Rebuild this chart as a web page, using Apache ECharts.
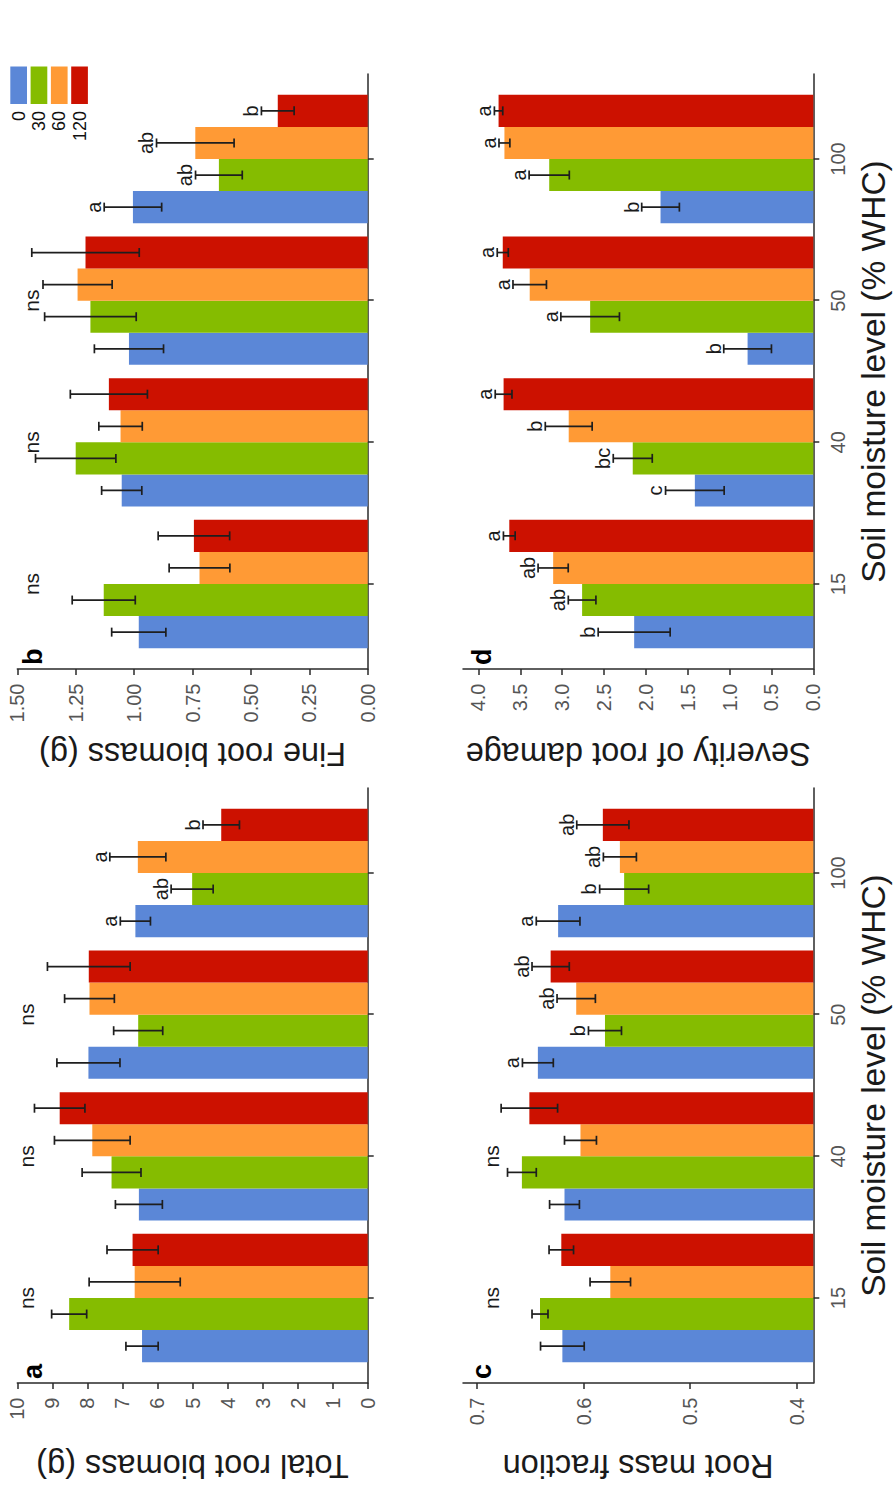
<!DOCTYPE html>
<html>
<head>
<meta charset="utf-8">
<script src="https://cdn.jsdelivr.net/npm/echarts@6/dist/echarts.min.js"></script>
<style>
html,body{margin:0;padding:0;background:#fff;overflow:hidden;width:894px;height:1488px;}
#chart{position:absolute;left:-297px;top:297px;width:1488px;height:894px;transform:rotate(-90deg);transform-origin:50% 50%;background:#fff;}
</style>
</head>
<body>
<div id="chart"></div>
<script>
// ---------- DATA ----------
const categories = ['15', '40', '50', '100'];          // soil moisture level (% WHC)
const levels = ['0', '30', '60', '120'];               // legend entries

// (a) Total root biomass (g): rows = levels 0,30,60,120 ; cols = 15,40,50,100
const totalMean = [
  [6.44, 6.53, 7.97, 6.63],
  [8.52, 7.31, 6.55, 5.01],
  [6.65, 7.86, 7.94, 6.56],
  [6.71, 8.79, 7.96, 4.18]
];
const totalSE = [
  [0.46, 0.67, 0.90, 0.43],
  [0.50, 0.84, 0.70, 0.60],
  [1.30, 1.08, 0.71, 0.80],
  [0.73, 0.72, 1.18, 0.52]
];
const totalLetters = [['', '', '', 'a'], ['', '', '', 'ab'], ['', '', '', 'a'], ['', '', '', 'b']];
const totalGroupSig = ['ns', 'ns', 'ns', ''];
const totalTicks = [0, 1, 2, 3, 4, 5, 6, 7, 8, 9, 10];

// (b) Fine root biomass (g)
const fineMean = [
  [0.980, 1.053, 1.022, 1.005],
  [1.130, 1.250, 1.187, 0.637],
  [0.720, 1.058, 1.242, 0.738],
  [0.744, 1.108, 1.208, 0.385]
];
const fineSE = [
  [0.116, 0.086, 0.148, 0.123],
  [0.135, 0.172, 0.196, 0.100],
  [0.130, 0.093, 0.148, 0.166],
  [0.153, 0.165, 0.230, 0.070]
];
const fineLetters = [['', '', '', 'a'], ['', '', '', 'ab'], ['', '', '', 'ab'], ['', '', '', 'b']];
const fineGroupSig = ['ns', 'ns', 'ns', ''];
const fineTicks = [0, 0.25, 0.5, 0.75, 1.0, 1.25, 1.5];

// (c) Root mass fraction
const rmfMean = [
  [0.620, 0.618, 0.643, 0.624],
  [0.641, 0.658, 0.580, 0.562],
  [0.575, 0.603, 0.607, 0.566],
  [0.621, 0.651, 0.631, 0.582]
];
const rmfSE = [
  [0.0205, 0.0140, 0.0145, 0.0205],
  [0.0075, 0.0135, 0.0155, 0.0230],
  [0.0190, 0.0150, 0.0180, 0.0155],
  [0.0115, 0.0265, 0.0175, 0.0245]
];
const rmfLetters = [['', '', 'a', 'a'], ['', '', 'b', 'b'], ['', '', 'ab', 'ab'], ['', '', 'ab', 'ab']];
const rmfGroupSig = ['ns', 'ns', '', ''];
const rmfTicks = [0.4, 0.5, 0.6, 0.7];

// (d) Severity of root damage
const damageMean = [
  [2.140, 1.415, 0.785, 1.825],
  [2.762, 2.157, 2.666, 3.155],
  [3.108, 2.922, 3.388, 3.690],
  [3.632, 3.700, 3.710, 3.760]
];
const damageSE = [
  [0.430, 0.350, 0.285, 0.225],
  [0.165, 0.233, 0.350, 0.240],
  [0.180, 0.280, 0.200, 0.065],
  [0.070, 0.100, 0.066, 0.050]
];
const damageLetters = [['b', 'c', 'b', 'b'], ['ab', 'bc', 'a', 'a'], ['ab', 'b', 'a', 'a'], ['a', 'a', 'a', 'a']];
const damageGroupSig = ['', '', '', ''];
const damageTicks = [0, 0.5, 1.0, 1.5, 2.0, 2.5, 3.0, 3.5, 4.0];

// ---------- STYLE / LAYOUT ----------
const FONT = '"Liberation Sans", Arial, Helvetica, sans-serif';
const COLORS = ['#5B87D7', '#85BC00', '#FF9A35', '#CC1100'];
const AX = '#2a2a2a';
const ERR = '#1e1e1e';
const BAR_W = 0.2265;
const CAP = 4.5;
const SIG_FS = 20;
const NS_FS = 21;
const LAB_FS = 20;

const panels = [
  { tag: 'a', title: 'Total root biomass (g)', mean: totalMean, se: totalSE, letters: totalLetters,
    groupSig: totalGroupSig, ticks: totalTicks, min: 0, max: 10, dec: 0, nsAt: 9.54, showCat: false,
    grid: { left: 105, top: 17.3, width: 595, height: 350.4 }, titleX: 22.4 },
  { tag: 'b', title: 'Fine root biomass (g)', mean: fineMean, se: fineSE, letters: fineLetters,
    groupSig: fineGroupSig, ticks: fineTicks, min: 0, max: 1.5, dec: 2, nsAt: 1.41, showCat: false,
    grid: { left: 819, top: 17.3, width: 595, height: 350.4 }, titleX: 734 },
  { tag: 'c', title: 'Root mass fraction', mean: rmfMean, se: rmfSE, letters: rmfLetters,
    groupSig: rmfGroupSig, ticks: rmfTicks, min: 0.3844, max: 0.7133, dec: 1, nsAt: 0.680, showCat: true,
    grid: { left: 105, top: 463, width: 595, height: 350.3 }, titleX: 22.4 },
  { tag: 'd', title: 'Severity of root damage', mean: damageMean, se: damageSE, letters: damageLetters,
    groupSig: damageGroupSig, ticks: damageTicks, min: 0, max: 4.185, dec: 1, nsAt: 4.0, showCat: true,
    grid: { left: 819, top: 463, width: 595, height: 350.3 }, titleX: 734 }
];
const catPos = categories.map((c, i) => i + 1);

function textStyle(text, size, opts) {
  const o = Object.assign({ align: 'center', vAlign: 'middle', fill: '#1a1a1a', weight: 'normal' }, opts || {});
  return {
    text: text, fill: o.fill,
    font: o.weight + ' ' + size + 'px ' + FONT,
    align: o.align, verticalAlign: o.vAlign,
    textAlign: o.align, textVerticalAlign: o.vAlign
  };
}

function barRenderer(p, li) {
  return function (params, api) {
    const xPos = api.value(0);
    const mean = api.value(1);
    const se = api.value(2);
    const xc = xPos + (li - 1.5) * BAR_W;
    const tl = api.coord([xc - BAR_W / 2, mean]);
    const br = api.coord([xc + BAR_W / 2, p.min]);
    const lo = api.coord([xc, mean - se]);
    const hi = api.coord([xc, mean + se]);
    const ls = { stroke: ERR, lineWidth: 1.7 };
    const children = [
      { type: 'rect', shape: { x: tl[0], y: tl[1], width: br[0] - tl[0], height: br[1] - tl[1] },
        style: { fill: COLORS[li] } },
      { type: 'line', shape: { x1: lo[0], y1: lo[1], x2: hi[0], y2: hi[1] }, style: ls },
      { type: 'line', shape: { x1: lo[0] - CAP, y1: lo[1], x2: lo[0] + CAP, y2: lo[1] }, style: ls },
      { type: 'line', shape: { x1: hi[0] - CAP, y1: hi[1], x2: hi[0] + CAP, y2: hi[1] }, style: ls }
    ];
    const letter = p.letters[li][params.dataIndex];
    if (letter) {
      children.push({ type: 'text', x: hi[0], y: hi[1] - 4 - 0.31 * SIG_FS, style: textStyle(letter, SIG_FS) });
    }
    return { type: 'group', children: children };
  };
}

function nsRenderer(p) {
  return function (params, api) {
    const pt = api.coord([api.value(0), p.nsAt]);
    return { type: 'text', x: pt[0], y: pt[1] - 0.31 * NS_FS, style: textStyle('ns', NS_FS) };
  };
}

const grids = [], xAxes = [], yAxes = [], series = [], graphics = [];

panels.forEach((p, k) => {
  grids.push(Object.assign({ containLabel: false }, p.grid));
  xAxes.push({
    gridIndex: k, type: 'value', min: 0.4, max: 4.6, position: 'bottom',
    axisLine: { show: true, onZero: false, lineStyle: { color: AX, width: 1.5 } },
    axisTick: { show: true, inside: false, length: 6, customValues: catPos, lineStyle: { color: AX, width: 1.5 } },
    axisLabel: { show: p.showCat, customValues: catPos, margin: 14.5, fontSize: LAB_FS, color: '#555',
      fontFamily: FONT, formatter: v => categories[Math.round(v) - 1] },
    splitLine: { show: false }
  });
  yAxes.push({
    gridIndex: k, type: 'value', min: p.min, max: p.max, position: 'left',
    axisLine: { show: true, onZero: false, lineStyle: { color: AX, width: 1.5 } },
    axisTick: { show: true, inside: false, length: 6, customValues: p.ticks, lineStyle: { color: AX, width: 1.5 } },
    axisLabel: { show: true, customValues: p.ticks, margin: 14.5, fontSize: LAB_FS, color: '#555',
      fontFamily: FONT, formatter: v => Number(v).toFixed(p.dec) },
    splitLine: { show: false }
  });
  levels.forEach((lv, li) => {
    series.push({
      type: 'custom', name: lv, xAxisIndex: k, yAxisIndex: k,
      encode: { x: 0, y: 1 },
      data: p.mean[li].map((m, i) => [catPos[i], m, p.se[li][i]]),
      renderItem: barRenderer(p, li), z: 2
    });
  });
  const nsData = p.groupSig.map((s, i) => s ? [catPos[i]] : null).filter(d => d);
  if (nsData.length) {
    series.push({
      type: 'custom', xAxisIndex: k, yAxisIndex: k, encode: { x: 0 },
      data: nsData, renderItem: nsRenderer(p), z: 3
    });
  }
  // value-axis title (rotated)
  graphics.push({
    type: 'text', x: p.titleX, y: p.grid.top + p.grid.height / 2, rotation: Math.PI / 2,
    style: textStyle(p.title, 32.5)
  });
  // panel tag
  graphics.push({
    type: 'text', x: p.grid.left + 4, y: p.grid.top + (k < 2 ? 16 : 18.6),
    style: textStyle(p.tag, 27, { align: 'left', weight: 'bold', fill: '#000' })
  });
  // category-axis title on bottom row
  if (p.showCat) {
    graphics.push({
      type: 'text', x: p.grid.left + p.grid.width / 2, y: 873.3,
      style: textStyle('Soil moisture level (% WHC)', 33.5)
    });
  }
});

// legend (top-right corner of panel b)
levels.forEach((lv, i) => {
  const y0 = 10.3 + i * 20.3;
  graphics.push({ type: 'rect', shape: { x: 1384, y: y0, width: 37.5, height: 16.7 }, style: { fill: COLORS[i] } });
  graphics.push({ type: 'text', x: 1377, y: y0 + 8.35, style: textStyle(lv, 18, { align: 'right', fill: '#111' }) });
});

const chart = echarts.init(document.getElementById('chart'), null, { renderer: 'svg', width: 1488, height: 894 });
chart.setOption({
  animation: false,
  backgroundColor: '#ffffff',
  textStyle: { fontFamily: FONT },
  grid: grids, xAxis: xAxes, yAxis: yAxes, series: series,
  graphic: { elements: graphics }
});
</script>
</body>
</html>
